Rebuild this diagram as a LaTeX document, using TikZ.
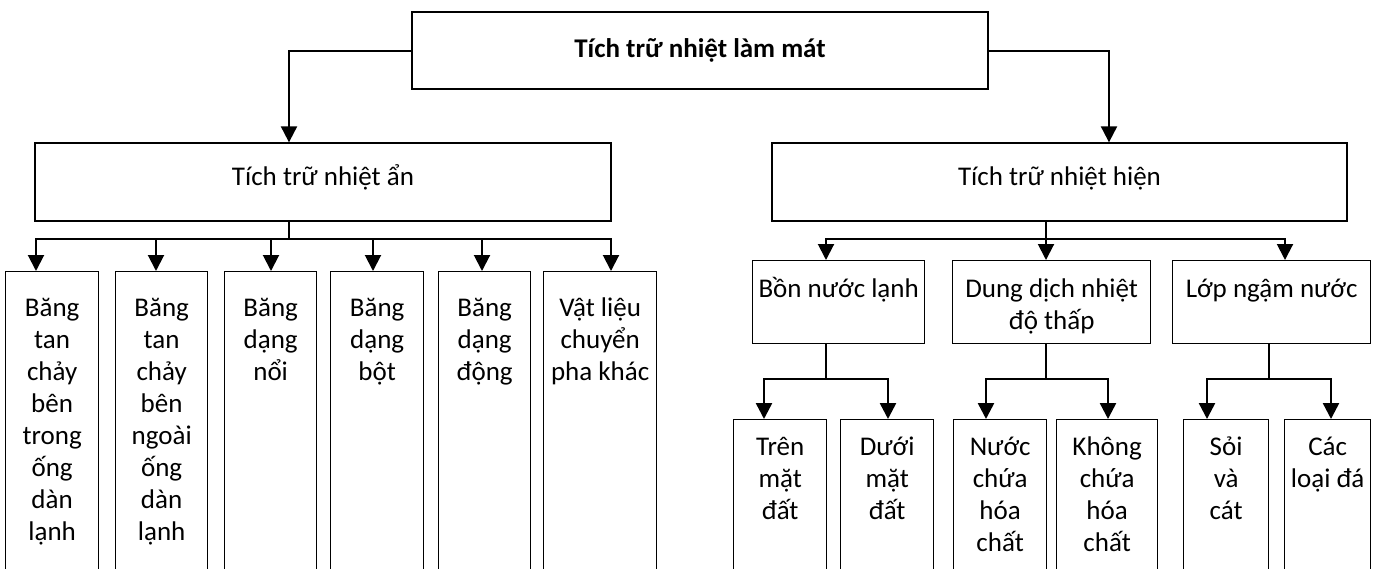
\documentclass[tikz,border=0pt]{standalone}
\usepackage{fontspec}
\setmainfont{Carlito}
\usetikzlibrary{arrows.meta}

% text at the top of a tall box: width, height, first baseline, lines
\newcommand{\celltext}[4]{\parbox[t][#2pt][t]{#1pt}{\centering\rule{0pt}{#3pt}#4}}

\tikzset{
  every node/.style={font=\fontsize{27}{32}\selectfont},
  box/.style={draw, line width=1.3pt, inner sep=0pt},
  midbox/.style={box, minimum height=78pt, text height=19pt, text depth=13pt},
  link/.style={line width=2pt},
  arr/.style={link, -{Triangle[width=16pt,length=16pt]}},
  stem/.style={line width=1.7pt},
  arrlow/.style={line width=2.5pt, -{Triangle[width=16pt,length=16pt]}},
}

\begin{document}
\begin{tikzpicture}[x=1pt, y=-1pt]
  \useasboundingbox (0,0) rectangle (1381,568);
  \clip (0,0) rectangle (1381,568);
  % Root
  \node[box, minimum width=576pt, minimum height=77pt, text height=19pt, text depth=6pt,
        font=\fontsize{27}{32}\selectfont\bfseries] (root) at (700,50.5) {Tích trữ nhiệt làm mát};
  % Second level
  \node[midbox, minimum width=576pt] (latent)   at (323,182)    {Tích trữ nhiệt ẩn};
  \node[midbox, minimum width=575pt] (sensible) at (1059.5,182) {Tích trữ nhiệt hiện};
  \draw[arr] (root.west) -| (289,0 |- latent.north);
  \draw[arr] (root.east) -| (1109,0 |- sensible.north);
  % Latent storage leaves
  \node[box, anchor=north west] (a1) at (5,271)   {\celltext{93}{330}{45}{Băng\\tan\\chảy\\bên\\trong\\ống\\dàn\\lạnh}};
  \node[box, anchor=north west] (a2) at (115,271) {\celltext{92}{330}{45}{Băng\\tan\\chảy\\bên\\ngoài\\ống\\dàn\\lạnh}};
  \node[box, anchor=north west] (a3) at (224,271) {\celltext{92}{330}{45}{Băng\\dạng\\nổi}};
  \node[box, anchor=north west] (a4) at (330,271) {\celltext{93}{330}{45}{Băng\\dạng\\bột}};
  \node[box, anchor=north west] (a5) at (438,271) {\celltext{92}{330}{45}{Băng\\dạng\\động}};
  \node[box, anchor=north west] (a6) at (543,271) {\celltext{113}{330}{45}{Vật liệu\\chuyển\\pha khác}};
  \coordinate (lbus) at (289,239);
  \draw[link] (latent.south -| lbus) -- (lbus);
  \foreach \n/\x in {a1/36, a2/156, a3/271, a4/373, a5/482, a6/611}
    \draw[arr] (lbus) -| (\x,0 |- \n.north);
  % Sensible storage, third level
  \node[box, anchor=north west] (b1) at (752,260)  {\celltext{172}{83}{37}{Bồn nước lạnh}};
  \node[box, anchor=north west] (b2) at (952,260)  {\celltext{198}{83}{37}{Dung dịch nhiệt\\độ thấp}};
  \node[box, anchor=north west] (b3) at (1172,260) {\celltext{198}{83}{37}{Lớp ngậm nước}};
  \coordinate (rbus) at (1046,239);
  \draw[link] (sensible.south -| rbus) -- (rbus);
  \foreach \n/\x in {b1/826, b2/1046, b3/1285}
    \draw[arr] (rbus) -| (\x,0 |- \n.north);
  % Sensible storage, fourth level
  \node[box, anchor=north west] (c1) at (733,419)  {\celltext{93}{180}{36}{Trên\\mặt\\đất}};
  \node[box, anchor=north west] (c2) at (840,419)  {\celltext{93}{180}{36}{Dưới\\mặt\\đất}};
  \node[box, anchor=north west] (c3) at (953,419)  {\celltext{93}{180}{36}{Nước\\chứa\\hóa\\chất}};
  \node[box, anchor=north west] (c4) at (1056,419) {\celltext{101}{180}{36}{Không\\chứa\\hóa\\chất}};
  \node[box, anchor=north west] (c5) at (1183,419) {\celltext{85}{180}{36}{Sỏi\\và\\cát}};
  \node[box, anchor=north west] (c6) at (1284,419) {\celltext{86}{180}{36}{Các\\loại đá}};
  \coordinate (s1) at (826,379);
  \coordinate (s2) at (1046,379);
  \coordinate (s3) at (1269,379);
  \foreach \b/\s in {b1/s1, b2/s2, b3/s3}
    \draw[stem] (\b.south -| \s) -- (\s);
  \draw[arrlow] (s1) -| (764,0 |- c1.north);
  \draw[arrlow] (s1) -| (888,0 |- c2.north);
  \draw[arrlow] (s2) -| (986,0 |- c3.north);
  \draw[arrlow] (s2) -| (1108,0 |- c4.north);
  \draw[arrlow] (s3) -| (1207,0 |- c5.north);
  \draw[arrlow] (s3) -| (1331,0 |- c6.north);
\end{tikzpicture}
\end{document}
